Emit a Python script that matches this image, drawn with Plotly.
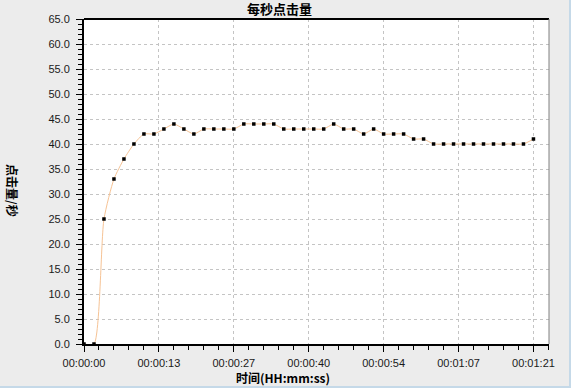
import plotly.graph_objects as go

# ---- data ----
step_seconds = 1.8
hits_per_sec = [0, 0, 25, 33, 37, 40, 42, 42, 43, 44, 43, 42, 43, 43, 43, 43,
                44, 44, 44, 44, 43, 43, 43, 43, 43, 44, 43, 43, 42, 43, 42, 42,
                42, 41, 41, 40, 40, 40, 40, 40, 40, 40, 40, 40, 40, 41]
times = [i * step_seconds for i in range(len(hits_per_sec))]

x_tick_vals = [0, 13.5, 27, 40.5, 54, 67.5, 81]
x_tick_text = ["00:00:00", "00:00:13", "00:00:27", "00:00:40",
               "00:00:54", "00:01:07", "00:01:21"]

title_text = "每秒点击量"
x_title = "时间(HH:mm:ss)"
y_title = "点击量/秒"

fig = go.Figure()
fig.add_trace(go.Scatter(
    x=times, y=hits_per_sec, mode="lines+markers",
    line=dict(color="#f6c395", width=1, shape="spline", smoothing=0.6),
    marker=dict(symbol="square", size=3.5, color="#000000", line=dict(width=0)),
    showlegend=False,
))

tick_font = dict(family="Liberation Sans, Arial, sans-serif", size=11, color="#1a1a1a")
cjk = "Noto Sans CJK SC, sans-serif"

W, H = 571, 388
ML, MR, MT, MB = 84, 22, 19, 44

fig.update_layout(
    width=W, height=H,
    margin=dict(l=ML, r=MR, t=MT, b=MB),
    paper_bgcolor="#ececec",
    plot_bgcolor="#ffffff",
    xaxis=dict(
        range=[0, 83.8], tickmode="array", tickvals=x_tick_vals, ticktext=x_tick_text,
        showline=True, linecolor="#000000", linewidth=2,
        ticks="outside", ticklen=6, tickcolor="#000000", tickwidth=1,
        showgrid=True, gridcolor="#c4c4c4", griddash="dot", gridwidth=1,
        zeroline=False, tickfont=tick_font, ticklabelstandoff=2,
        minor=dict(dtick=2.7, tick0=0, ticks="outside", ticklen=4,
                   tickcolor="#000000", showgrid=False),
    ),
    yaxis=dict(
        range=[0, 65], dtick=5, tick0=0, tickformat=".1f",
        showline=True, linecolor="#000000", linewidth=2,
        ticks="outside", ticklen=6, tickcolor="#000000", tickwidth=1,
        showgrid=True, gridcolor="#c4c4c4", griddash="dot", gridwidth=1,
        zeroline=False, tickfont=tick_font, ticklabelstandoff=4,
        minor=dict(dtick=1, tick0=0, ticks="outside", ticklen=4,
                   tickcolor="#000000", showgrid=False),
    ),
)


def px_x(px):
    return (px - ML) / (W - ML - MR)


def px_y(py):
    return (H - MB - py) / (H - MT - MB)


fig.add_annotation(text="<b>" + title_text + "</b>", x=px_x(279), y=px_y(8.5),
                   xref="paper", yref="paper", showarrow=False,
                   xanchor="center", yanchor="middle",
                   font=dict(family=cjk, size=13, color="#000000"))
fig.add_annotation(text="<b>" + x_title + "</b>", x=px_x(283), y=px_y(377),
                   xref="paper", yref="paper", showarrow=False,
                   xanchor="center", yanchor="middle",
                   font=dict(family=cjk, size=12, color="#000000"))
fig.add_annotation(text="<b>" + y_title + "</b>", x=px_x(13), y=px_y(190),
                   xref="paper", yref="paper", showarrow=False, textangle=90,
                   xanchor="center", yanchor="middle",
                   font=dict(family=cjk, size=12, color="#000000"))

# plot frame: black top, gray right
fig.add_shape(type="line", xref="paper", yref="paper", x0=0, x1=1, y0=1, y1=1,
              line=dict(color="#000000", width=2))
fig.add_shape(type="line", xref="paper", yref="paper", x0=1, x1=1, y0=0, y1=1,
              line=dict(color="#808080", width=1))
# light blue window edge at right and bottom
fig.add_shape(type="line", xref="paper", yref="paper", x0=px_x(-5), x1=px_x(576),
              y0=px_y(387), y1=px_y(387), line=dict(color="#c5d9e8", width=2))
fig.add_shape(type="line", xref="paper", yref="paper", x0=px_x(570), x1=px_x(570),
              y0=px_y(-5), y1=px_y(393), line=dict(color="#c5d9e8", width=2))

fig.write_html("out.html")
